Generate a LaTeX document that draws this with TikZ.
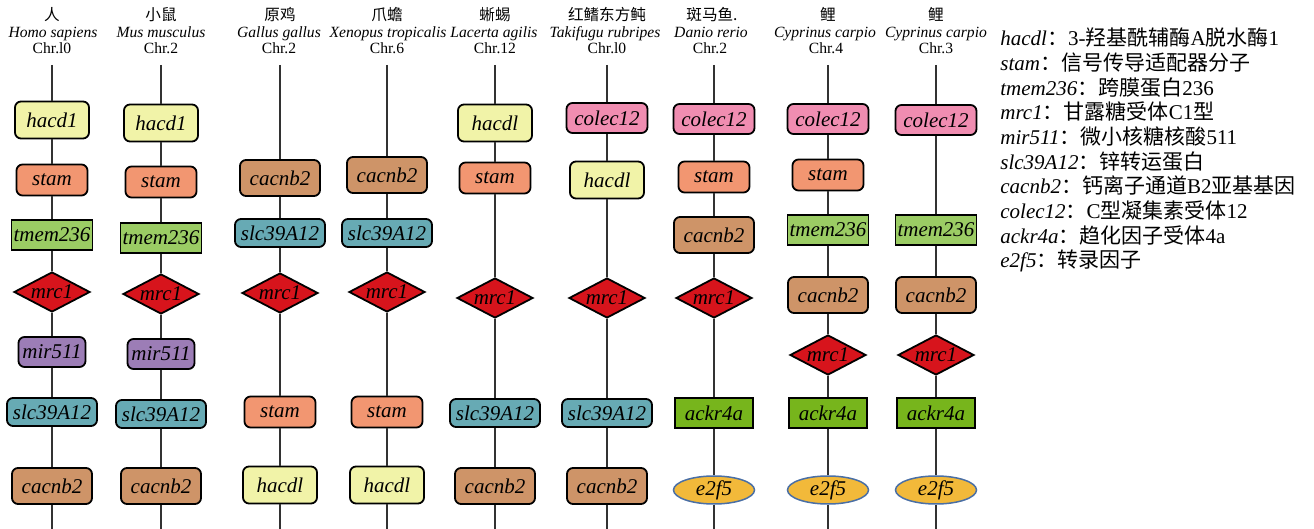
\documentclass[tikz,border=0pt]{standalone}
\usepackage{fontspec}
\setmainfont{Liberation Serif}
\newfontfamily\cjk{Noto Sans CJK SC}
\usetikzlibrary{shapes.geometric}

\definecolor{hacdcol}{RGB}{241,243,168}
\definecolor{stamcol}{RGB}{242,150,113}
\definecolor{tmemcol}{RGB}{155,204,100}
\definecolor{mrccol}{RGB}{215,20,28}
\definecolor{mircol}{RGB}{156,125,182}
\definecolor{slccol}{RGB}{103,170,180}
\definecolor{cacnbcol}{RGB}{206,148,104}
\definecolor{coleccol}{RGB}{240,141,177}
\definecolor{ackrcol}{RGB}{119,181,28}
\definecolor{e2fcol}{RGB}{242,185,58}
\definecolor{e2fline}{RGB}{74,111,165}
\definecolor{chromcol}{RGB}{50,50,50}

\tikzset{
  gene/.style={draw=black, line width=0.9pt, inner sep=0pt,
    font=\fontsize{10.5}{12}\selectfont\itshape},
  rbox/.style={gene, rectangle, rounded corners=3pt},
  sbox/.style={gene, rectangle},
  hacdbox/.style={rbox, fill=hacdcol, minimum width=37pt, minimum height=18.5pt},
  stambox/.style={rbox, fill=stamcol, minimum width=35.5pt, minimum height=15.5pt},
  tmembox/.style={sbox, fill=tmemcol, minimum width=40.5pt, minimum height=15pt},
  mrcbox/.style={gene, diamond, fill=mrccol, minimum width=38pt, minimum height=20pt},
  mirbox/.style={rbox, fill=mircol, minimum width=33.5pt, minimum height=15pt},
  slcbox/.style={rbox, fill=slccol, minimum width=45pt, minimum height=14pt},
  cacnbbox/.style={rbox, fill=cacnbcol, minimum width=40pt, minimum height=18pt},
  colecbox/.style={rbox, fill=coleccol, minimum width=40.5pt, minimum height=15pt},
  ackrbox/.style={sbox, fill=ackrcol, minimum width=39pt, minimum height=15pt},
  e2fbox/.style={gene, ellipse, draw=e2fline, line width=0.75pt, fill=e2fcol,
    minimum width=40.5pt, minimum height=14pt},
  chrom/.style={draw=chromcol, line width=0.55pt},
  sp/.style={anchor=base, inner sep=0pt, font=\fontsize{7.8}{9}\selectfont},
  legend/.style={anchor=base west, inner sep=0pt, font=\fontsize{10.5}{12}\selectfont},
}
\newcommand{\mrctext}{\makebox[0pt]{mrc1}}

\begin{document}
\begin{tikzpicture}[x=0.5pt, y=-0.5pt]
\useasboundingbox (0,0) rectangle (1314,529);

% ---------- species headers ----------
\node[sp] (s1a) at (52,21) {\cjk 人};
\node[sp] (s1b) at (53,37.5) {\itshape Homo sapiens};
\node[sp] (s1c) at (52,53.5) {Chr.l0};
\node[sp] (s2a) at (161,21) {\cjk 小鼠};
\node[sp] (s2b) at (161,37.5) {\itshape Mus musculus};
\node[sp] (s2c) at (161,53.5) {Chr.2};
\node[sp] (s3a) at (280,21) {\cjk 原鸡};
\node[sp] (s3b) at (279,37.5) {\itshape Gallus gallus};
\node[sp] (s3c) at (279,53.5) {Chr.2};
\node[sp] (s4a) at (387,21) {\cjk 爪蟾};
\node[sp] (s4b) at (388,37.5) {\itshape Xenopus tropicalis};
\node[sp] (s4c) at (387,53.5) {Chr.6};
\node[sp] (s5a) at (495,21) {\cjk 蜥蜴};
\node[sp] (s5b) at (494,37.5) {\itshape Lacerta agilis};
\node[sp] (s5c) at (495,53.5) {Chr.12};
\node[sp] (s6a) at (607,21) {\cjk 红鳍东方鲀};
\node[sp] (s6b) at (605,37.5) {\itshape Takifugu rubripes};
\node[sp] (s6c) at (607,53.5) {Chr.l0};
\node[sp] (s7a) at (712,21) {\cjk 斑马鱼.};
\node[sp] (s7b) at (711,37.5) {\itshape Danio rerio};
\node[sp] (s7c) at (710,53.5) {Chr.2};
\node[sp] (s8a) at (828,21) {\cjk 鲤};
\node[sp] (s8b) at (825,37.5) {\itshape Cyprinus carpio};
\node[sp] (s8c) at (826,53.5) {Chr.4};
\node[sp] (s9a) at (936,21) {\cjk 鲤};
\node[sp] (s9b) at (936,37.5) {\itshape Cyprinus carpio};
\node[sp] (s9c) at (936,53.5) {Chr.3};

% ---------- column 1: Homo sapiens ----------
\coordinate (t1) at (52,65); \coordinate (b1) at (52,529);
\node[hacdbox]  (a1) at (52,120) {hacd1};
\node[stambox]  (a2) at (52,180) {stam};
\node[tmembox]  (a3) at (52,235) {tmem236};
\node[mrcbox]   (a4) at (52,292) {\mrctext};
\node[mirbox]   (a5) at (52,352) {mir511};
\node[slcbox]   (a6) at (52,412) {slc39A12};
\node[cacnbbox] (a7) at (52,486) {cacnb2};

% ---------- column 2: Mus musculus ----------
\coordinate (t2) at (161,65); \coordinate (b2) at (161,529);
\node[hacdbox]  (b2n1) at (161,123) {hacd1};
\node[stambox]  (b2n2) at (161,182) {stam};
\node[tmembox]  (b2n3) at (161,238) {tmem236};
\node[mrcbox]   (b2n4) at (161,294) {\mrctext};
\node[mirbox]   (b2n5) at (161,354) {mir511};
\node[slcbox]   (b2n6) at (161,414) {slc39A12};
\node[cacnbbox] (b2n7) at (161,486) {cacnb2};

% ---------- column 3: Gallus gallus ----------
\coordinate (t3) at (280,65); \coordinate (b3) at (280,529);
\node[cacnbbox] (c1) at (280,178) {cacnb2};
\node[slcbox]   (c2) at (280,233) {slc39A12};
\node[mrcbox]   (c3) at (280,293) {\mrctext};
\node[stambox]  (c4) at (280,412) {stam};
\node[hacdbox]  (c5) at (280,485) {hacdl};

% ---------- column 4: Xenopus tropicalis ----------
\coordinate (t4) at (387,65); \coordinate (b4) at (387,529);
\node[cacnbbox] (d1) at (387,175) {cacnb2};
\node[slcbox]   (d2) at (387,233) {slc39A12};
\node[mrcbox]   (d3) at (387,292) {\mrctext};
\node[stambox]  (d4) at (387,412) {stam};
\node[hacdbox]  (d5) at (387,485) {hacdl};

% ---------- column 5: Lacerta agilis ----------
\coordinate (t5) at (495,65); \coordinate (b5) at (495,529);
\node[hacdbox]  (e1) at (495,123) {hacdl};
\node[stambox]  (e2) at (495,178) {stam};
\node[mrcbox]   (e3) at (495,298) {\mrctext};
\node[slcbox]   (e4) at (495,413) {slc39A12};
\node[cacnbbox] (e5) at (495,486) {cacnb2};

% ---------- column 6: Takifugu rubripes ----------
\coordinate (t6) at (607,65); \coordinate (b6) at (607,529);
\node[colecbox] (f1) at (607,118) {colec12};
\node[hacdbox]  (f2) at (607,180) {hacdl};
\node[mrcbox]   (f3) at (607,298) {\mrctext};
\node[slcbox]   (f4) at (607,413) {slc39A12};
\node[cacnbbox] (f5) at (607,486) {cacnb2};

% ---------- column 7: Danio rerio ----------
\coordinate (t7) at (714,65); \coordinate (b7) at (714,529);
\node[colecbox] (g1) at (714,119) {colec12};
\node[stambox]  (g2) at (714,177) {stam};
\node[cacnbbox] (g3) at (714,235) {cacnb2};
\node[mrcbox]   (g4) at (714,298) {\mrctext};
\node[ackrbox]  (g5) at (714,413) {ackr4a};
\node[e2fbox]   (g6) at (714,490) {e2f5};

% ---------- column 8: Cyprinus carpio Chr.4 ----------
\coordinate (t8) at (828,65); \coordinate (b8) at (828,529);
\node[colecbox] (h1) at (828,119) {colec12};
\node[stambox]  (h2) at (828,175) {stam};
\node[tmembox]  (h3) at (828,230) {tmem236};
\node[cacnbbox] (h4) at (828,295) {cacnb2};
\node[mrcbox]   (h5) at (828,355) {\mrctext};
\node[ackrbox]  (h6) at (828,413) {ackr4a};
\node[e2fbox]   (h7) at (828,490) {e2f5};

% ---------- column 9: Cyprinus carpio Chr.3 ----------
\coordinate (t9) at (936,65); \coordinate (b9) at (936,529);
\node[colecbox] (i1) at (936,120) {colec12};
\node[tmembox]  (i2) at (936,230) {tmem236};
\node[cacnbbox] (i3) at (936,295) {cacnb2};
\node[mrcbox]   (i4) at (936,355) {\mrctext};
\node[ackrbox]  (i5) at (936,413) {ackr4a};
\node[e2fbox]   (i6) at (936,490) {e2f5};

% ---------- chromosome lines ----------
\draw[chrom] (t1) -- (a1) -- (a2) -- (a3) -- (a4) -- (a5) -- (a6) -- (a7) -- (b1);
\draw[chrom] (t2) -- (b2n1) -- (b2n2) -- (b2n3) -- (b2n4) -- (b2n5) -- (b2n6) -- (b2n7) -- (b2);
\draw[chrom] (t3) -- (c1) -- (c2) -- (c3) -- (c4) -- (c5) -- (b3);
\draw[chrom] (t4) -- (d1) -- (d2) -- (d3) -- (d4) -- (d5) -- (b4);
\draw[chrom] (t5) -- (e1) -- (e2) -- (e3) -- (e4) -- (e5) -- (b5);
\draw[chrom] (t6) -- (f1) -- (f2) -- (f3) -- (f4) -- (f5) -- (b6);
\draw[chrom] (t7) -- (g1) -- (g2) -- (g3) -- (g4) -- (g5) -- (g6) -- (b7);
\draw[chrom] (t8) -- (h1) -- (h2) -- (h3) -- (h4) -- (h5) -- (h6) -- (h7) -- (b8);
\draw[chrom] (t9) -- (i1) -- (i2) -- (i3) -- (i4) -- (i5) -- (i6) -- (b9);

% ---------- gene legend ----------
\node[legend] (l1)  at (1000,46)    {\textit{hacdl}{\cjk ：}3-{\cjk 羟基酰辅酶}A{\cjk 脱水酶}1};
\node[legend] (l2)  at (1000,70.7)  {\textit{stam}{\cjk ：信号传导适配器分子}};
\node[legend] (l3)  at (1000,95.3)  {\textit{tmem236}{\cjk ：跨膜蛋白}236};
\node[legend] (l4)  at (1000,120)   {\textit{mrc1}{\cjk ：甘露糖受体}C1{\cjk 型}};
\node[legend] (l5)  at (1000,144.7) {\textit{mir511}{\cjk ：微小核糖核酸}511};
\node[legend] (l6)  at (1000,169.3) {\textit{slc39A12}{\cjk ：锌转运蛋白}};
\node[legend] (l7)  at (1000,194)   {\textit{cacnb2}{\cjk ：钙离子通道}B2{\cjk 亚基基因}};
\node[legend] (l8)  at (1000,218.7) {\textit{colec12}{\cjk ：}C{\cjk 型凝集素受体}12};
\node[legend] (l9)  at (1000,243.3) {\textit{ackr4a}{\cjk ：趋化因子受体}4a};
\node[legend] (l10) at (1000,268)   {\textit{e2f5}{\cjk ：转录因子}};
\end{tikzpicture}
\end{document}
